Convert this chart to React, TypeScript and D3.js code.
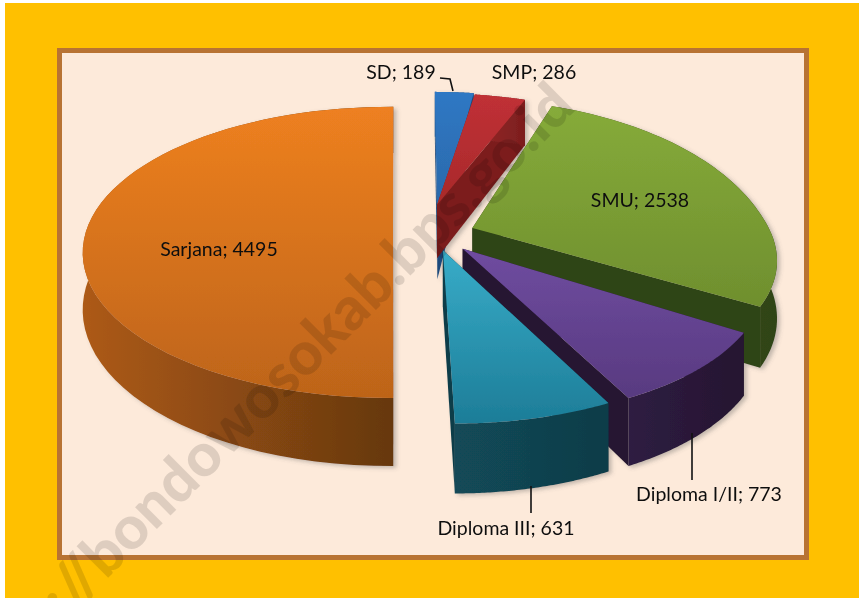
import React from "react";
import * as d3 from "d3";

const categories = ["SD", "SMP", "SMU", "Diploma I/II", "Diploma III", "Sarjana"];
const values = [189, 286, 2538, 773, 631, 4495];
const topColors = [["#2f78c4", "#2a66a6"], ["#c03036", "#a82a2a"], ["#86ab3a", "#6f8f2e"], ["#6f4ca0", "#583a80"], ["#38acc8", "#1d7d98"], ["#ee8020", "#bd6419"]];
const wallColors = [["#2a5f98", "#1d4a7c"], ["#962828", "#7c1e1e"], ["#3d5219", "#2f4416"], ["#2e1c42", "#261630"], ["#124a58", "#103c48"], ["#ad5a14", "#663810"]];
const offsets = [[46, 0], [47, 46], [82, -8], [70, -54], [50, -57], [-4, 0]];
const tipShift = [0, 0, 0, 0, 0, 4];
const radii = [370, 320, 306, 295, 300, 320];
const backStretch = [0, 0, 0.16, 0, 0, 0];
const lateral = [1, 1, 1, 1, 1, 0.975];
const spins = [1.1, 2.5, 0, 1.5, 1.5, 0.8];
const showEndWall = [true, true, true, true, true, false];
const drawOrder = [5, 0, 1, 2, 3, 4];
const labelPos = [[401, 79], [534, 79], [640, 207], [709, 501], [506, 535], [219, 256]];

const W = 859, H = 598;
const vx = 393, yv = -503, camH = 755, depth = 57, unit = 320;

function project(X: number, Y: number, Z: number): [number, number] {
  const s = 1 / (1.038 + (0.2 * Y) / unit);
  return [vx + X * s, yv + (camH + Z) * s];
}

const pie = d3.pie<number>().sort(null).startAngle(0).endAngle(2 * Math.PI);
const arcs = pie(values);
const line = d3.line();

function slicePaths(i: number) {
  const a = arcs[i];
  const [ox, oy] = offsets[i];
  const spin = (spins[i] * Math.PI) / 180;
  const t0 = a.startAngle + spin;
  const t1 = a.endAngle + spin;
  const thetas = d3.range(0, 61).map((k) => t0 + ((t1 - t0) * k) / 60);
  const rad = (t: number) => {
    const c = Math.max(0, Math.cos(t));
    return radii[i] * (1 + backStretch[i] * c * c);
  };
  const pt = (t: number, rr: number, z: number) =>
    project(ox + rr * lateral[i] * Math.sin(t), oy + rr * Math.cos(t), z);
  const tip = (z: number) => project(ox + tipShift[i], oy, z);
  const closed = (p: [number, number][]) => line(p) + "Z";
  const top = closed([tip(0), ...thetas.map((t) => pt(t, rad(t), 0))]);
  const outer = closed([...thetas.map((t) => pt(t, rad(t), 0)), ...thetas.slice().reverse().map((t) => pt(t, rad(t), depth))]);
  const s1 = closed([tip(0), pt(t0, rad(t0), 0), pt(t0, rad(t0), depth), tip(depth)]);
  const s2 = closed([tip(0), pt(t1, rad(t1), 0), pt(t1, rad(t1), depth), tip(depth)]);
  return { top, outer, s1, s2 };
}

const leaders: [number, number][][] = [
  [[440, 78], [450, 79], [453, 91]],
  [[692, 433], [692, 480]],
  [[531, 486], [531, 513]],
];

export default function App() {
  return (
    <svg width={W} height={H} style={{ position: "fixed", left: 0, top: 0, background: "#fff" }}>
      <defs>
        {categories.map((_, i) => (
          <React.Fragment key={i}>
            <linearGradient id={`t${i}`} x1="0" y1="0" x2="0" y2="1">
              <stop offset="0" stopColor={topColors[i][0]} />
              <stop offset="1" stopColor={topColors[i][1]} />
            </linearGradient>
            <linearGradient id={`w${i}`} x1="0" y1="0" x2="1" y2="0">
              <stop offset="0" stopColor={wallColors[i][0]} />
              <stop offset="1" stopColor={wallColors[i][1]} />
            </linearGradient>
          </React.Fragment>
        ))}
        <filter id="soft" x="-5%" y="-5%" width="110%" height="110%">
          <feGaussianBlur stdDeviation="0.7" result="b" />
          <feDropShadow in="b" dx="3" dy="2" stdDeviation="2" floodColor="#555" floodOpacity="0.35" />
        </filter>
        <filter id="softText" x="-5%" y="-20%" width="110%" height="140%">
          <feGaussianBlur stdDeviation="0.25" />
        </filter>
      </defs>
      <rect x={5} y={3} width={W - 5} height={H - 3} fill="#FFC000" />
      <rect x={59.5} y={50.5} width={747} height={507} fill="#FDEADA" stroke="#B87333" strokeWidth={5} />
      <g filter="url(#soft)">
        {drawOrder.map((i) => {
          const p = slicePaths(i);
          return (
            <g key={categories[i]}>
              <path d={p.s1} fill={wallColors[i][1]} />
              {showEndWall[i] && <path d={p.s2} fill={wallColors[i][1]} />}
              <path d={p.outer} fill={`url(#w${i})`} />
              <path d={p.top} fill={`url(#t${i})`} />
            </g>
          );
        })}
      </g>
      {leaders.map((l, i) => (
        <path key={i} d={line(l) ?? ""} fill="none" stroke="#111" strokeWidth={1.6} />
      ))}
      <g filter="url(#softText)" fontFamily="Lato, 'Open Sans', sans-serif" fontSize={19.5} fill="#111" textAnchor="middle">
        {categories.map((c, i) => (
          <text key={c} x={labelPos[i][0]} y={labelPos[i][1]}>{`${c}; ${values[i]}`}</text>
        ))}
      </g>
      <text
        transform="translate(46,640) rotate(-45)"
        fontFamily="Lato, sans-serif"
        fontWeight={900}
        fontSize={60}
        fill="#000"
        fillOpacity={0.12}
      >
        s://bondowosokab.bps.go.id
      </text>
    </svg>
  );
}
